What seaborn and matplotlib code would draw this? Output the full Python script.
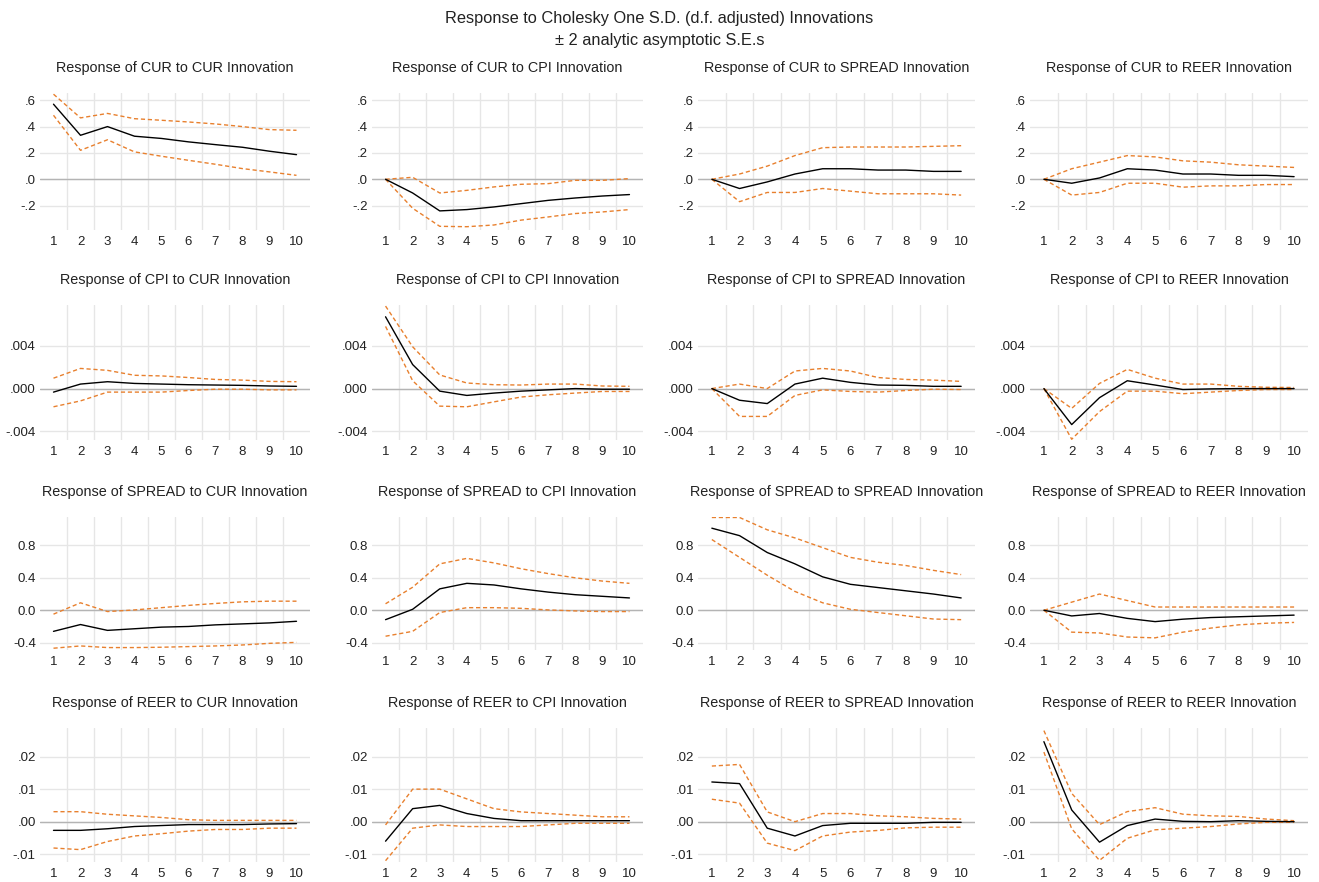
import numpy as np
import pandas as pd
import seaborn as sns
import matplotlib.pyplot as plt

periods = list(range(1, 11))
variables = ["CUR", "CPI", "SPREAD", "REER"]

# each list holds one series per shock, in the order CUR, CPI, SPREAD, REER
cur_resp = [
    [0.57, 0.334, 0.40, 0.327, 0.31, 0.284, 0.263, 0.243, 0.213, 0.187],
    [0.0, -0.104, -0.24, -0.23, -0.21, -0.185, -0.16, -0.142, -0.127, -0.116],
    [0.0, -0.07, -0.02, 0.04, 0.08, 0.08, 0.07, 0.07, 0.06, 0.06],
    [0.0, -0.03, 0.01, 0.08, 0.07, 0.04, 0.04, 0.03, 0.03, 0.02],
]
cur_hi = [
    [0.646, 0.466, 0.50, 0.46, 0.448, 0.435, 0.42, 0.40, 0.377, 0.372],
    [0.0, 0.015, -0.104, -0.084, -0.058, -0.038, -0.033, -0.008, -0.008, 0.005],
    [0.0, 0.04, 0.10, 0.18, 0.24, 0.245, 0.245, 0.245, 0.25, 0.255],
    [0.0, 0.08, 0.13, 0.18, 0.17, 0.14, 0.13, 0.11, 0.10, 0.09],
]
cur_lo = [
    [0.486, 0.22, 0.30, 0.208, 0.175, 0.144, 0.114, 0.081, 0.056, 0.030],
    [0.0, -0.22, -0.357, -0.36, -0.347, -0.31, -0.286, -0.26, -0.248, -0.23],
    [0.0, -0.17, -0.10, -0.10, -0.07, -0.09, -0.11, -0.11, -0.11, -0.12],
    [0.0, -0.12, -0.10, -0.03, -0.03, -0.06, -0.05, -0.05, -0.04, -0.04],
]

cpi_resp = [
    [-0.00033, 0.00042, 0.00064, 0.00048, 0.00042, 0.00036, 0.00033, 0.0003, 0.00024, 0.00021],
    [0.0067, 0.00224, -0.00024, -0.00064, -0.00042, -0.00024, -0.00012, 0.0, -0.00006, -0.00006],
    [0.0, -0.00109, -0.0014, 0.00042, 0.00097, 0.00058, 0.00033, 0.0003, 0.00021, 0.00021],
    [0.0, -0.00336, -0.00085, 0.00073, 0.00033, -0.00009, -0.00003, 0.0, 0.0, 0.0],
]
cpi_hi = [
    [0.00097, 0.00188, 0.0017, 0.00124, 0.00118, 0.00103, 0.00085, 0.00079, 0.00067, 0.00064],
    [0.0077, 0.0039, 0.00127, 0.00052, 0.00036, 0.00033, 0.00042, 0.00042, 0.00024, 0.00021],
    [0.0, 0.00042, 0.0, 0.00164, 0.00188, 0.00164, 0.00103, 0.00085, 0.00079, 0.00067],
    [0.0, -0.00185, 0.00048, 0.00179, 0.00097, 0.00042, 0.00042, 0.00021, 0.00012, 0.0001],
]
cpi_lo = [
    [-0.0017, -0.00115, -0.00033, -0.00033, -0.00033, -0.00018, -0.00006, -0.00006, -0.00012, -0.00012],
    [0.0058, 0.00073, -0.00164, -0.0017, -0.00124, -0.00079, -0.00058, -0.00042, -0.00027, -0.00027],
    [0.0, -0.0026, -0.0026, -0.00064, -0.00012, -0.00027, -0.00033, -0.00018, -0.00006, -0.00009],
    [0.0, -0.00473, -0.00215, -0.00024, -0.00024, -0.00048, -0.00033, -0.00018, -0.00009, -0.00009],
]

spread_resp = [
    [-0.26, -0.176, -0.248, -0.228, -0.208, -0.2, -0.18, -0.168, -0.156, -0.136],
    [-0.116, 0.012, 0.264, 0.332, 0.312, 0.264, 0.224, 0.192, 0.172, 0.152],
    [1.012, 0.92, 0.712, 0.572, 0.412, 0.32, 0.28, 0.24, 0.2, 0.152],
    [0.0, -0.07, -0.04, -0.10, -0.14, -0.11, -0.09, -0.08, -0.07, -0.06],
]
spread_hi = [
    [-0.048, 0.092, -0.016, 0.004, 0.032, 0.06, 0.084, 0.104, 0.112, 0.112],
    [0.08, 0.284, 0.572, 0.64, 0.584, 0.512, 0.452, 0.40, 0.36, 0.332],
    [1.144, 1.144, 0.992, 0.892, 0.772, 0.652, 0.592, 0.552, 0.492, 0.44],
    [0.0, 0.10, 0.20, 0.12, 0.04, 0.04, 0.04, 0.04, 0.04, 0.04],
]
spread_lo = [
    [-0.468, -0.44, -0.46, -0.46, -0.456, -0.448, -0.44, -0.428, -0.408, -0.396],
    [-0.32, -0.26, -0.028, 0.032, 0.032, 0.024, 0.004, -0.008, -0.016, -0.016],
    [0.872, 0.652, 0.432, 0.232, 0.092, 0.012, -0.028, -0.068, -0.108, -0.116],
    [0.0, -0.27, -0.28, -0.33, -0.34, -0.27, -0.22, -0.18, -0.16, -0.15],
]

reer_resp = [
    [-0.00267, -0.00267, -0.00218, -0.00149, -0.00119, -0.00089, -0.00089, -0.00089, -0.0007, -0.0006],
    [-0.006, 0.004, 0.005, 0.0025, 0.001, 0.0003, 0.0003, 0.0003, 0.0003, 0.0003],
    [0.0122, 0.0117, -0.002, -0.0044, -0.0012, -0.0005, -0.0005, -0.0005, -0.0002, -0.0002],
    [0.0246, 0.0036, -0.0063, -0.0012, 0.0008, 0.0001, 0.0, 0.0003, 0.0001, 0.0],
]
reer_hi = [
    [0.00307, 0.00307, 0.00228, 0.00178, 0.00129, 0.0006, 0.0004, 0.0004, 0.0004, 0.0004],
    [-0.001, 0.010, 0.010, 0.007, 0.004, 0.003, 0.0025, 0.002, 0.0015, 0.0015],
    [0.0171, 0.0176, 0.003, 0.0, 0.0025, 0.0025, 0.0018, 0.0015, 0.001, 0.0008],
    [0.028, 0.0087, -0.0009, 0.0031, 0.0043, 0.0023, 0.0018, 0.0016, 0.0008, 0.0003],
]
reer_lo = [
    [-0.0081, -0.0086, -0.0061, -0.0044, -0.0037, -0.0029, -0.0024, -0.0024, -0.002, -0.002],
    [-0.012, -0.002, -0.001, -0.0015, -0.0015, -0.0015, -0.001, -0.0005, -0.0005, -0.0005],
    [0.0069, 0.0057, -0.0066, -0.0089, -0.0044, -0.0032, -0.0027, -0.0019, -0.0017, -0.0017],
    [0.0214, -0.0022, -0.0119, -0.0051, -0.0025, -0.002, -0.0015, -0.0007, -0.0002, -0.0002],
]

rows = [
    (cur_resp, cur_lo, cur_hi),
    (cpi_resp, cpi_lo, cpi_hi),
    (spread_resp, spread_lo, spread_hi),
    (reer_resp, reer_lo, reer_hi),
]

row_ticks = [
    [-0.2, 0.0, 0.2, 0.4, 0.6],
    [-0.004, 0.0, 0.004],
    [-0.4, 0.0, 0.4, 0.8],
    [-0.01, 0.0, 0.01, 0.02],
]
row_tick_labels = [
    ["-.2", ".0", ".2", ".4", ".6"],
    ["-.004", ".000", ".004"],
    ["-0.4", "0.0", "0.4", "0.8"],
    ["-.01", ".00", ".01", ".02"],
]
row_ylim = [(-0.385, 0.655), (-0.0048, 0.0078), (-0.49, 1.15), (-0.0124, 0.0288)]

sns.set_theme(style="white")
plt.rcParams["font.family"] = ["Liberation Sans", "DejaVu Sans"]

W, H = 1319, 882
fig = plt.figure(figsize=(W / 100, H / 100), dpi=100)

# panel boxes in pixels
col_left = [40, 372, 698, 1030]
col_right = [310, 643, 975, 1308]
row_top = [93, 305, 517, 728]
row_bottom = [230, 440, 650, 862]

orange = "#e8802e"

for i, (resp, lo, hi) in enumerate(rows):
    for j, shock in enumerate(variables):
        rect = [col_left[j] / W, 1 - row_bottom[i] / H,
                (col_right[j] - col_left[j]) / W, (row_bottom[i] - row_top[i]) / H]
        ax = fig.add_axes(rect)
        df = pd.DataFrame({"period": periods, "resp": resp[j], "lo": lo[j], "hi": hi[j]})

        ax.axhline(0, color="#b4b4b4", lw=1.0, zorder=1)
        sns.lineplot(data=df, x="period", y="hi", ax=ax, color=orange, lw=1.0,
                     linestyle=(0, (3, 2)), zorder=3)
        sns.lineplot(data=df, x="period", y="lo", ax=ax, color=orange, lw=1.0,
                     linestyle=(0, (3, 2)), zorder=3)
        sns.lineplot(data=df, x="period", y="resp", ax=ax, color="black", lw=1.0, zorder=4)

        ax.set_xlim(0.5, 10.5)
        ax.set_ylim(*row_ylim[i])
        ax.set_xticks(periods)
        ax.set_xticks([p + 0.5 for p in periods[:-1]], minor=True)
        ax.set_yticks(row_ticks[i])
        ax.set_yticklabels(row_tick_labels[i])
        ax.grid(False)
        ax.grid(which="minor", axis="x", color="#e6e6e6", lw=1.0)
        ax.grid(which="major", axis="y", color="#e6e6e6", lw=1.0)
        ax.set_axisbelow(True)
        ax.tick_params(axis="both", which="both", length=0, labelsize=9.5, colors="#222222")
        ax.tick_params(axis="x", pad=4)
        ax.tick_params(axis="y", pad=3)
        for s in ax.spines.values():
            s.set_visible(False)
        ax.set_xlabel("")
        ax.set_ylabel("")
        ax.set_title(f"Response of {variables[i]} to {shock} Innovation",
                     fontsize=10.4, color="#222222", pad=15)

fig.text(0.5, 1 - 19 / H, "Response to Cholesky One S.D. (d.f. adjusted) Innovations",
         ha="center", va="center", fontsize=11.8, color="#222222")
fig.text(0.5, 1 - 41 / H, "\u00b1 2 analytic asymptotic S.E.s",
         ha="center", va="center", fontsize=11.8, color="#222222")

fig.savefig("out.png", dpi=100)
